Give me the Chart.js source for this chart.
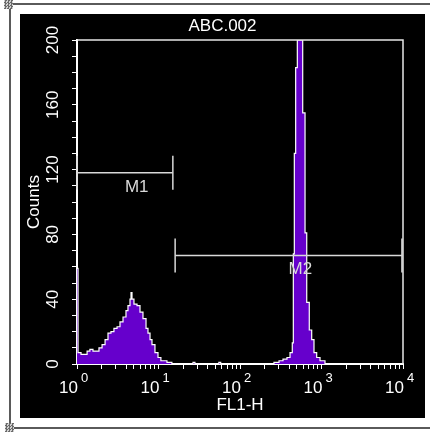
<!DOCTYPE html>
<html>
<head>
<meta charset="utf-8">
<script src="https://cdn.jsdelivr.net/npm/chart.js@4.4.1/dist/chart.umd.min.js"></script>
<style>
  body { margin: 0; background: #fff; width: 432px; height: 433px; position: relative; overflow: hidden; }
  .rule { position: absolute; background: #5a5a5a; }
  .corner { position: absolute; width: 9px; height: 9px; background: repeating-conic-gradient(#6a6a6a 0 25%, #d0d0d0 0 50%) 0 0 / 3px 3px; }
  #panel { position: absolute; left: 20px; top: 14px; width: 405px; height: 404px; background: #000; }
</style>
</head>
<body>
<div class="rule" style="left:10px;top:3px;width:420px;height:2px"></div>
<div class="rule" style="left:9px;top:3px;width:2px;height:426px"></div>
<div class="rule" style="left:10px;top:427px;width:420px;height:2px"></div>
<div class="corner" style="left:4px;top:0px"></div>
<div class="corner" style="left:5px;top:423px"></div>
<div id="panel"><canvas id="histChart" width="405" height="404"></canvas></div>
<script>
// FL1-H bin left edges and counts
const fl1Values = [
    1, 1.03, 1.12, 1.22, 1.33, 1.44, 1.57, 1.71, 1.86, 2.03, 2.21, 2.40, 2.61, 2.84,
    3.10, 3.37, 3.67, 3.99, 4.22, 4.47, 4.60, 4.73, 5.00, 5.45, 5.93, 6.45, 7.03, 7.43,
    7.87, 8.32, 9.05, 9.86, 10.7, 11.7, 12.7, 13.8, 14.6, 26.5, 28, 55, 58,
    261, 301, 337, 377, 411, 438, 451, 464, 482, 505, 588, 628, 659, 708, 758, 809,
    873, 959, 1104, 10000
];
const counts = [
    59, 7, 6, 6, 8, 9, 8, 8, 10, 12, 15, 19, 20, 22,
    23, 26, 29, 33, 36, 40, 44, 40, 37, 36, 32, 28, 22, 19,
    15, 12, 7, 4, 2, 2, 1, 1, 0, 1, 0, 1, 0,
    1, 2, 3, 4, 7, 13, 68, 130, 183, 200, 155, 81, 38, 21, 15, 7,
    4, 2, 0, 0
];

const xTickPowers = [0, 1, 2, 3, 4];
const yTickLabels = [0, 40, 80, 120, 160, 200];

// gate markers
const markerNames = ['M1', 'M2'];
const markerStarts = [1, 16];
const markerEnds = [15, 9700];
const markerLevels = [118, 67];

const chartTitle = 'ABC.002';
const xTitle = 'FL1-H';
const yTitle = 'Counts';

const FONT = '"Liberation Sans", Arial, sans-serif';
const markerColor = '#d9d9d9';

function markerDataset(i) {
    return {
        data: [
            { x: markerStarts[i], y: markerLevels[i] },
            { x: markerEnds[i], y: markerLevels[i] }
        ],
        borderColor: markerColor,
        borderWidth: 1.5,
        pointStyle: 'line',
        pointRotation: 90,
        pointRadius: 17,
        pointBorderColor: markerColor,
        pointBorderWidth: 1.5,
        fill: false,
        clip: false
    };
}

const textPlugin = {
    id: 'cytoText',
    afterDraw(chart) {
        const c = chart.ctx;
        const area = chart.chartArea;
        const xs = chart.scales.x;
        const ys = chart.scales.y;
        c.save();

        // top and right sides of the plot frame
        c.strokeStyle = '#e6e6e6';
        c.lineWidth = 1.5;
        c.beginPath();
        c.moveTo(area.left, area.top);
        c.lineTo(area.right, area.top);
        c.lineTo(area.right, area.bottom);
        c.stroke();

        c.fillStyle = '#fff';

        // title
        c.font = '17px ' + FONT;
        c.textAlign = 'center';
        c.textBaseline = 'middle';
        c.fillText(chartTitle, chart.width / 2, 12);

        // x axis decade labels, 10 with raised exponent
        xTickPowers.forEach(p => {
            const px = xs.getPixelForValue(Math.pow(10, p));
            c.textBaseline = 'alphabetic';
            c.font = '17px ' + FONT;
            c.textAlign = 'right';
            c.fillText('10', px + 1, 379);
            c.font = '13px ' + FONT;
            c.textAlign = 'left';
            c.fillText(String(p), px + 4, 368);
        });

        // x axis title
        c.font = '17px ' + FONT;
        c.textAlign = 'center';
        c.textBaseline = 'middle';
        c.fillText(xTitle, (area.left + area.right) / 2, 391);

        // y labels, rotated
        yTickLabels.forEach(v => {
            const py = ys.getPixelForValue(v);
            c.save();
            c.translate(33, py);
            c.rotate(-Math.PI / 2);
            c.fillText(String(v), 0, 0);
            c.restore();
        });
        c.save();
        c.translate(14, (area.top + area.bottom) / 2);
        c.rotate(-Math.PI / 2);
        c.fillText(yTitle, 0, 0);
        c.restore();

        // marker names
        c.fillStyle = markerColor;
        c.textAlign = 'left';
        markerNames.forEach((name, i) => {
            const mid = (xs.getPixelForValue(markerStarts[i]) + xs.getPixelForValue(markerEnds[i])) / 2;
            c.fillText(name, mid, ys.getPixelForValue(markerLevels[i]) + 14);
        });

        c.restore();
    }
};

const ctx = document.getElementById('histChart').getContext('2d');
const histChart = new Chart(ctx, {
    type: 'line',
    data: {
        datasets: [
            markerDataset(0),
            markerDataset(1),
            {
                data: fl1Values.map((v, i) => ({ x: v, y: counts[i] })),
                stepped: true,
                borderColor: '#ffffff',
                borderWidth: 1.2,
                backgroundColor: '#6600cc',
                fill: 'origin',
                pointRadius: 0
            }
        ]
    },
    options: {
        responsive: false,
        animation: false,
        events: [],
        layout: { padding: { top: 26, right: 22, left: 0, bottom: 0 } },
        plugins: {
            legend: { display: false },
            tooltip: { enabled: false }
        },
        scales: {
            x: {
                type: 'logarithmic',
                min: 1,
                max: 10000,
                border: { color: '#ffffff', width: 2 },
                grid: { drawOnChartArea: false, color: '#ffffff', tickLength: 5 },
                ticks: { display: false, autoSkip: false },
                afterBuildTicks: scale => {
                    // keep only 1..9 x 10^n
                    scale.ticks = scale.ticks.filter(t => {
                        const m = t.value / Math.pow(10, Math.floor(Math.log10(t.value) + 1e-9));
                        return Math.abs(m - Math.round(m)) < 1e-6;
                    });
                },
                afterFit: scale => { scale.height = 54; }
            },
            y: {
                min: 0,
                max: 200,
                border: { color: '#ffffff', width: 2 },
                grid: { drawOnChartArea: false, color: '#ffffff', tickLength: 5 },
                ticks: { display: false, stepSize: 10 },
                afterFit: scale => { scale.width = 57; }
            }
        }
    },
    plugins: [textPlugin]
});
</script>
</body>
</html>
